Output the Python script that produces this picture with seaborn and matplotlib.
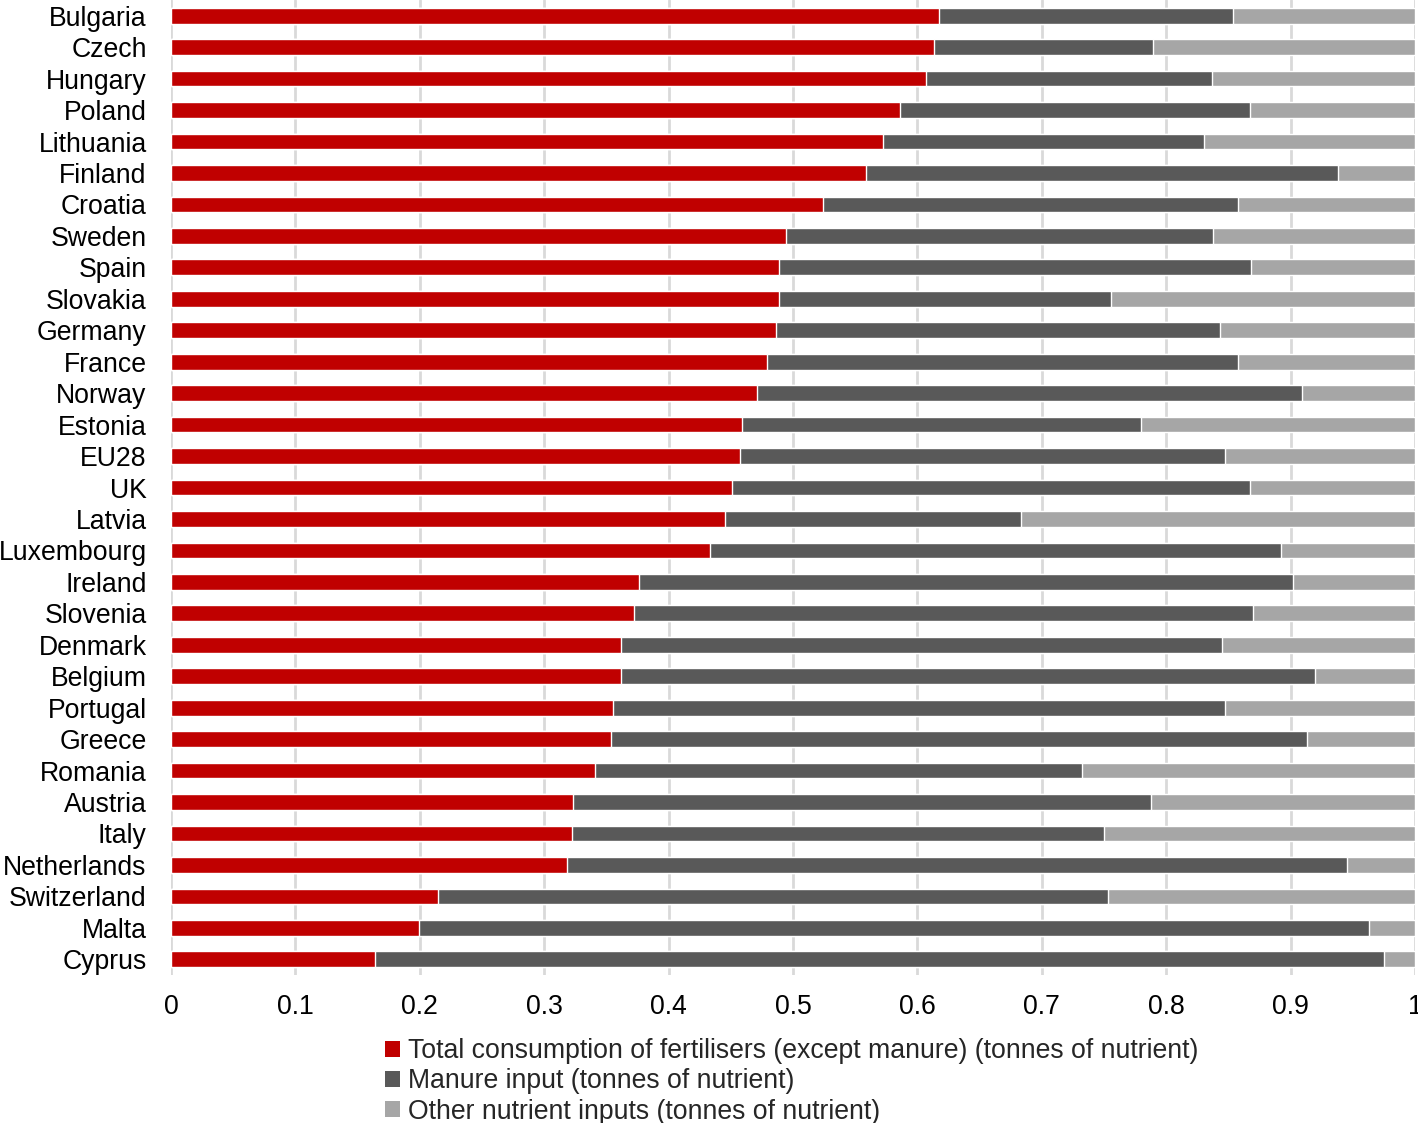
import matplotlib
matplotlib.use("Agg")
import matplotlib.pyplot as plt
from matplotlib.patches import Patch
import seaborn as sns
import pandas as pd

countries = ["Bulgaria", "Czech", "Hungary", "Poland", "Lithuania", "Finland", "Croatia",
             "Sweden", "Spain", "Slovakia", "Germany", "France", "Norway", "Estonia", "EU28",
             "UK", "Latvia", "Luxembourg", "Ireland", "Slovenia", "Denmark", "Belgium",
             "Portugal", "Greece", "Romania", "Austria", "Italy", "Netherlands", "Switzerland",
             "Malta", "Cyprus"]

# share of total nutrient input
fertiliser = [0.617, 0.613, 0.607, 0.586, 0.572, 0.559, 0.524, 0.494, 0.489, 0.489, 0.486,
              0.479, 0.471, 0.459, 0.457, 0.451, 0.445, 0.433, 0.376, 0.372, 0.362, 0.362,
              0.355, 0.354, 0.341, 0.323, 0.322, 0.318, 0.215, 0.199, 0.164]
manure = [0.237, 0.176, 0.230, 0.281, 0.258, 0.379, 0.334, 0.344, 0.379, 0.267, 0.357,
          0.379, 0.438, 0.321, 0.390, 0.416, 0.238, 0.459, 0.526, 0.498, 0.483, 0.558,
          0.492, 0.559, 0.391, 0.465, 0.428, 0.627, 0.538, 0.764, 0.811]

labels = ["Total consumption of fertilisers (except manure) (tonnes of nutrient)",
          "Manure input (tonnes of nutrient)",
          "Other nutrient inputs (tonnes of nutrient)"]
colors = ["#C00000", "#595959", "#A6A6A6"]

df = pd.DataFrame({"country": countries, "fert": fertiliser, "manure": manure})
df["other"] = 1 - df["fert"] - df["manure"]
df["cum_manure"] = df["fert"] + df["manure"]
df["cum_other"] = df["cum_manure"] + df["other"]

sns.set_style("white")
plt.rcParams["font.family"] = ["Liberation Sans", "DejaVu Sans"]

fig = plt.figure(figsize=(14.18, 11.23), dpi=100)
ax = fig.add_axes([171 / 1418, 1 - 975 / 1123, 1244 / 1418, 975 / 1123])

for col, c in zip(["cum_other", "cum_manure", "fert"], colors[::-1]):
    sns.barplot(data=df, x=col, y="country", orient="h", color=c, width=0.5,
                saturation=1, ax=ax, zorder=3)

ax.set_xlim(0, 1)
ax.set_ylim(30.5, -0.5)
ax.set_xticks([i / 10 for i in range(11)])
ax.set_xticklabels(["0"] + [f"{i / 10:.1f}" for i in range(1, 10)] + ["1"])
ax.grid(axis="x", color="#D9D9D9", linewidth=2, zorder=0)
ax.set_axisbelow(True)
ax.set_xlabel("")
ax.set_ylabel("")
for s in ax.spines.values():
    s.set_visible(False)
ax.tick_params(axis="both", length=0, labelsize=19.2, colors="black")
ax.tick_params(axis="x", pad=14)
ax.tick_params(axis="y", pad=17.5)

handles = [Patch(facecolor=c, edgecolor="none") for c in colors]
fig.legend(handles, labels, loc="upper left", bbox_to_anchor=(385 / 1418, 1 - 1038 / 1123),
           frameon=False, fontsize=19.2, handlelength=0.55, handleheight=0.55,
           handletextpad=0.3, labelspacing=0.16, borderpad=0, borderaxespad=0)

fig.savefig("out.png", dpi=100)
